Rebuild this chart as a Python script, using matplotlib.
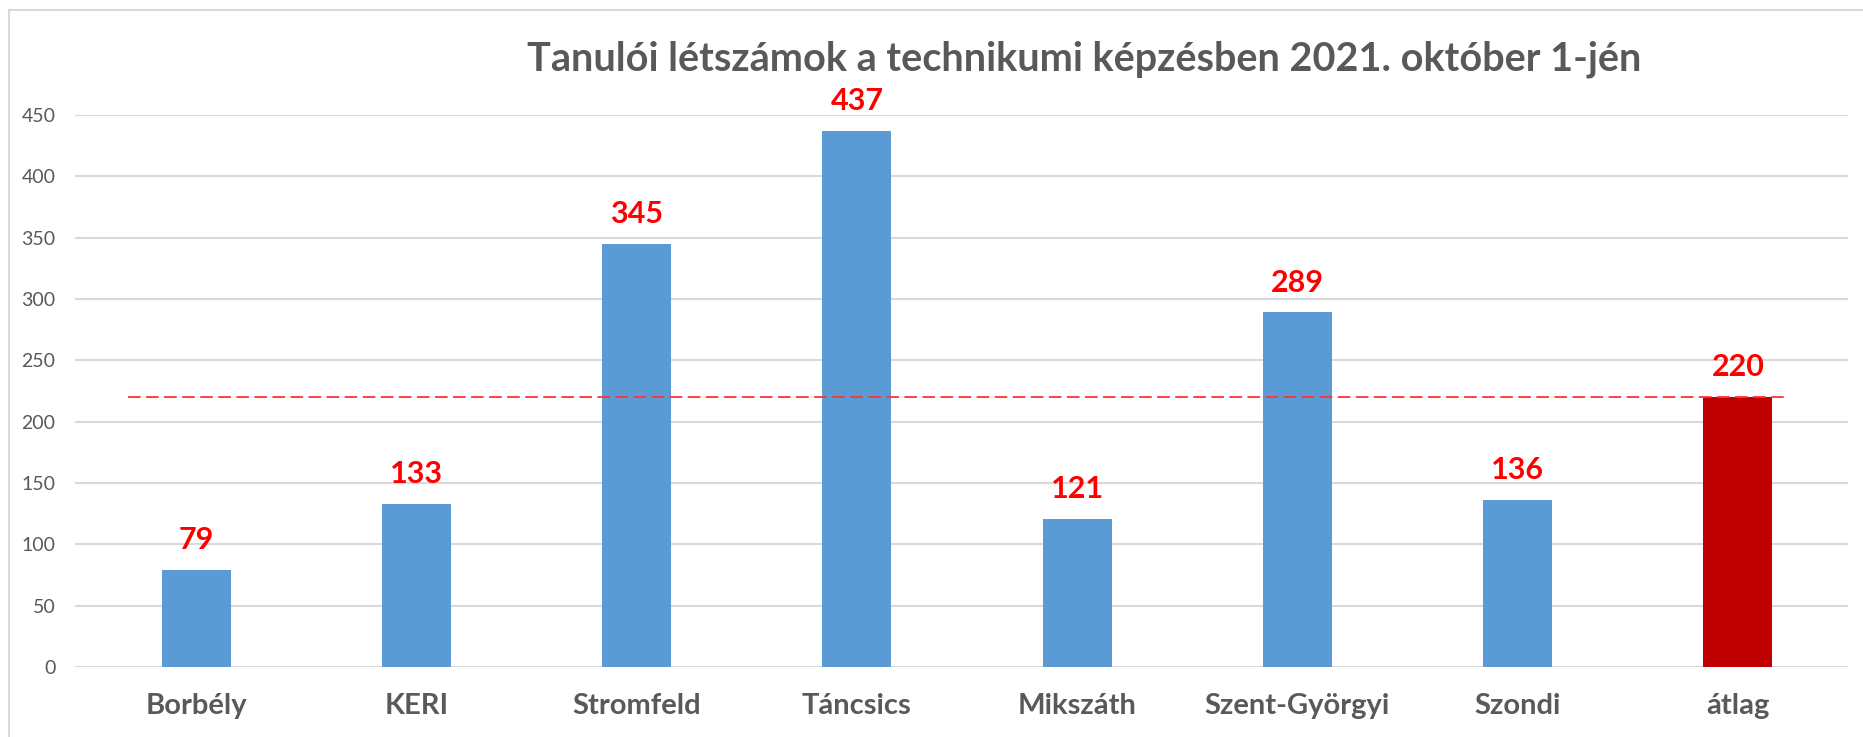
import matplotlib.pyplot as plt
import matplotlib.patches as patches
import numpy as np

categories = ['Borbély', 'KERI', 'Stromfeld', 'Táncsics', 'Mikszáth',
              'Szent-Györgyi', 'Szondi', 'átlag']
values = [79, 133, 345, 437, 121, 289, 136, 220]
average = 220
title = 'Tanulói létszámok a technikumi képzésben 2021. október 1-jén'

plt.rcParams['font.family'] = ['Lato', 'DejaVu Sans']

W, H = 1863, 737
fig = plt.figure(figsize=(W / 100, H / 100), dpi=100)
ax = fig.add_axes([75 / W, (H - 667) / H, (1848 - 75) / W, (667 - 115) / H])

x = np.arange(len(categories))
colors = ['#5B9BD5'] * (len(categories) - 1) + ['#C00000']
bars = ax.bar(x, values, 0.313, color=colors, zorder=2)

for rect, v in zip(bars, values):
    ax.annotate(str(v), (rect.get_x() + rect.get_width() / 2, v),
                xytext=(0, 21.5), textcoords='offset points',
                ha='center', va='center', fontsize=22, fontweight='bold',
                color='#FF0000')

ax.axhline(average, xmin=0.030, xmax=0.9656, color='#FF3333', lw=1.3,
           dashes=(7, 3), zorder=3)

ax.set_xlim(-0.55, 7.5)
ax.set_ylim(0, 450)
ax.set_yticks(np.arange(0, 451, 50))
ax.set_xticks(x)
ax.set_xticklabels(categories, fontsize=21, fontweight='bold', color='#595959')
ax.tick_params(axis='x', length=0, pad=19)
ax.tick_params(axis='y', length=0, pad=14, labelsize=14, labelcolor='#595959')
ax.grid(axis='y', color='#D9D9D9', lw=1.5, zorder=0)
for s in ax.spines.values():
    s.set_visible(False)

fig.text(1084 / W, 1 - 59 / H, title, ha='center', va='center',
         fontsize=28.5, fontweight='bold', color='#595959')

fig.patches.append(patches.Rectangle((9 / W, -0.1), 1.2, 1.1 - 10 / H,
                                     transform=fig.transFigure, fill=False,
                                     edgecolor='#D9D9D9', lw=1.5))

fig.savefig('out.png', dpi=100)
